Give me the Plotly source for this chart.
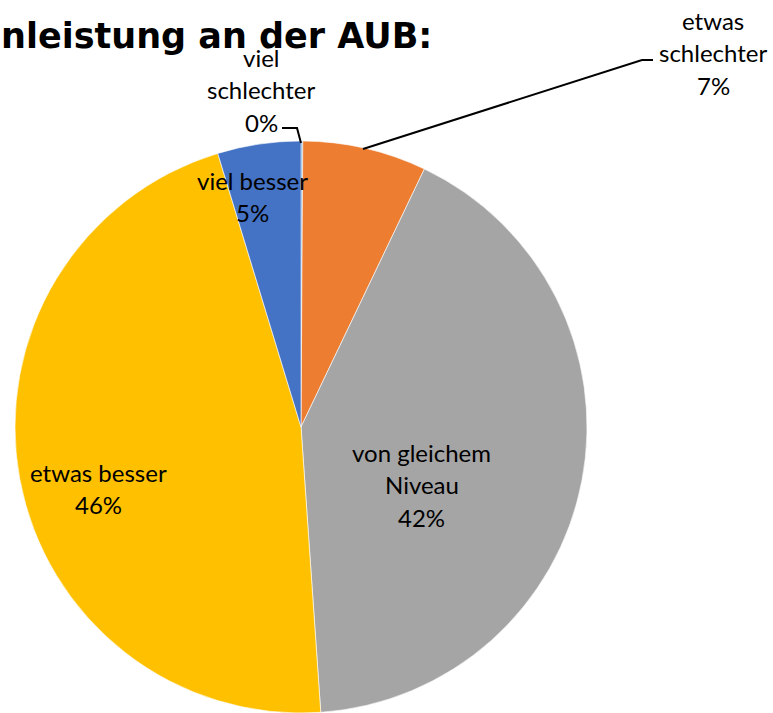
import plotly.graph_objects as go

# ---- data ----
categories = ["viel schlechter", "etwas schlechter", "von gleichem Niveau", "etwas besser", "viel besser"]
label_lines = [["viel", "schlechter"], ["etwas", "schlechter"], ["von gleichem", "Niveau"], ["etwas besser"], ["viel besser"]]
values = [0.1, 7.0, 41.8, 46.4, 4.7]
title_text = "nleistung an der AUB:"

# ---- styles / layout ----
colors = ["#5B9BD5", "#ED7D31", "#A5A5A5", "#FFC000", "#4472C4"]
W, H = 773, 713
FONT = "Lato"
LABEL_SIZE = 24
LINE_STEP = 32.5
# pixel centre of the first line of each label
label_pos = [(261, 57), (713, 20), (422, 452), (98, 472), (252, 180)]
# leader lines (pixel paths)
leaders = [
    [(301, 143), (297, 128), (282, 128)],
    [(363, 149), (642, 60), (653, 60)],
]

def px(x):
    return x / W

def py(y):
    return 1 - y / H

total = sum(values)
pcts = [f"{round(v / total * 100)}%" for v in values]

fig = go.Figure(go.Pie(
    labels=categories,
    values=values,
    sort=False,
    direction="clockwise",
    rotation=0,
    marker=dict(colors=colors, line=dict(color="white", width=0.6)),
    textinfo="none",
    hoverinfo="label+percent",
    domain=dict(x=[(301 - 286) / W, (301 + 286) / W], y=[0, 1 - 141 / H]),
    showlegend=False,
))

annotations = []
for lines, pct, (lx, ly) in zip(label_lines, pcts, label_pos):
    for i, t in enumerate(lines + [pct]):
        annotations.append(dict(
            x=px(lx), y=py(ly + i * LINE_STEP), xref="paper", yref="paper",
            text=t, showarrow=False, xanchor="center", yanchor="middle",
            font=dict(family=FONT, size=LABEL_SIZE, color="#000000"),
        ))

annotations.append(dict(
    x=px(-1), y=py(36), xref="paper", yref="paper", text=f"<b>{title_text}</b>",
    showarrow=False, xanchor="left", yanchor="middle",
    font=dict(family="DejaVu Sans", size=35, color="#000000"),
))

shapes = []
for pts in leaders:
    path = "M " + " L ".join(f"{px(x)},{py(y)}" for x, y in pts)
    shapes.append(dict(type="path", path=path, xref="paper", yref="paper",
                       line=dict(color="#000000", width=2)))

fig.update_layout(
    width=W, height=H,
    margin=dict(l=0, r=0, t=0, b=0),
    paper_bgcolor="white", plot_bgcolor="white",
    annotations=annotations,
    shapes=shapes,
)

fig.write_html("out.html", config={"displayModeBar": False},
               post_script="document.body.style.margin='0';")
